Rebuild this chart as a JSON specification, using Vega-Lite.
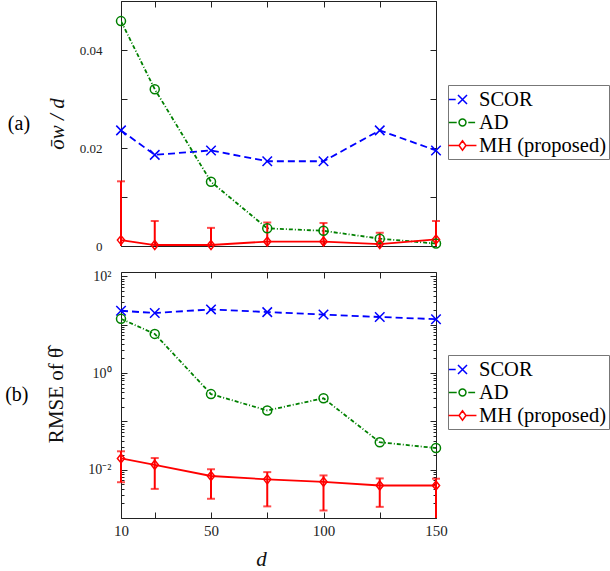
{
  "$schema": "https://vega.github.io/schema/vega-lite/v6.json",
  "background": "white",
  "padding": {"left": 4, "top": -6, "right": 2, "bottom": 4},
  "config": {
    "view": {"stroke": "#222", "strokeWidth": 1},
    "axis": {"domain": false, "grid": false, "tickColor": "#222", "tickWidth": 1, "labelFont": "Liberation Serif", "labelColor": "#222", "titleFont": "Liberation Serif", "titleFontWeight": "normal", "titleColor": "#111", "labelFlush": false, "labelOverlap": false, "labelBound": false},
    "legend": {"title": null, "orient": "none", "symbolSize": 441, "symbolStrokeWidth": 1.5, "labelFont": "Liberation Serif", "labelFontSize": 20.5, "labelColor": "#000", "labelOffset": 5, "padding": 3, "rowPadding": 1, "strokeColor": "#777", "fillColor": "white", "cornerRadius": 0}
  },
  "datasets": {
    "top": [
      {"m": "SCOR", "d": 10, "v": 0.0236}, {"m": "SCOR", "d": 25, "v": 0.0186}, {"m": "SCOR", "d": 50, "v": 0.0195}, {"m": "SCOR", "d": 75, "v": 0.0173}, {"m": "SCOR", "d": 100, "v": 0.0173}, {"m": "SCOR", "d": 125, "v": 0.0236}, {"m": "SCOR", "d": 150, "v": 0.0195},
      {"m": "AD", "d": 10, "v": 0.0459}, {"m": "AD", "d": 25, "v": 0.032}, {"m": "AD", "d": 50, "v": 0.0131}, {"m": "AD", "d": 75, "v": 0.0036}, {"m": "AD", "d": 100, "v": 0.0031}, {"m": "AD", "d": 125, "v": 0.0015}, {"m": "AD", "d": 150, "v": 0.0005},
      {"m": "MH (proposed)", "d": 10, "v": 0.0012, "lo": 0, "hi": 0.0132},
      {"m": "MH (proposed)", "d": 25, "v": 0.0002, "lo": 0, "hi": 0.0051},
      {"m": "MH (proposed)", "d": 50, "v": 0.0002, "lo": 0, "hi": 0.0037},
      {"m": "MH (proposed)", "d": 75, "v": 0.0009, "lo": 0, "hi": 0.0048},
      {"m": "MH (proposed)", "d": 100, "v": 0.0009, "lo": 0, "hi": 0.0047},
      {"m": "MH (proposed)", "d": 125, "v": 0.0004, "lo": 0, "hi": 0.0027},
      {"m": "MH (proposed)", "d": 150, "v": 0.00135, "lo": 0, "hi": 0.0051}
    ],
    "bottom": [
      {"m": "SCOR", "d": 10, "v": 19.4}, {"m": "SCOR", "d": 25, "v": 17.4}, {"m": "SCOR", "d": 50, "v": 20.7}, {"m": "SCOR", "d": 75, "v": 18.2}, {"m": "SCOR", "d": 100, "v": 16.2}, {"m": "SCOR", "d": 125, "v": 14.4}, {"m": "SCOR", "d": 150, "v": 13.0},
      {"m": "AD", "d": 10, "v": 13.2}, {"m": "AD", "d": 25, "v": 6.45}, {"m": "AD", "d": 50, "v": 0.366}, {"m": "AD", "d": 75, "v": 0.168}, {"m": "AD", "d": 100, "v": 0.3}, {"m": "AD", "d": 125, "v": 0.037}, {"m": "AD", "d": 150, "v": 0.028},
      {"m": "MH (proposed)", "d": 10, "v": 0.0171, "lo": 0.0055, "hi": 0.024},
      {"m": "MH (proposed)", "d": 25, "v": 0.0126, "lo": 0.004, "hi": 0.0174},
      {"m": "MH (proposed)", "d": 50, "v": 0.0074, "lo": 0.0025, "hi": 0.0102},
      {"m": "MH (proposed)", "d": 75, "v": 0.0063, "lo": 0.00174, "hi": 0.0089},
      {"m": "MH (proposed)", "d": 100, "v": 0.0056, "lo": 0.00143, "hi": 0.0076},
      {"m": "MH (proposed)", "d": 125, "v": 0.0047, "lo": 0.0017, "hi": 0.0066},
      {"m": "MH (proposed)", "d": 150, "v": 0.0047, "lo": 0.001, "hi": 0.0065}
    ]
  },
  "spacing": 14,
  "resolve": {"scale": {"color": "independent", "shape": "independent", "x": "independent", "y": "independent"}, "legend": {"color": "independent", "shape": "independent"}},
  "vconcat": [
    {
      "width": 315, "height": 245,
      "data": {"name": "top"},
      "title": {"text": "(a)", "orient": "left", "angle": 0, "align": "right", "baseline": "middle", "anchor": "middle", "offset": -6, "fontSize": 20, "font": "Liberation Serif", "fontWeight": "normal", "color": "#000"},
      "resolve": {"axis": {"x": "independent", "y": "independent"}},
      "layer": [
        {
          "transform": [{"filter": "datum.m == 'SCOR'"}],
          "mark": {"type": "line", "strokeWidth": 1.8, "strokeDash": [7, 4], "clip": true},
          "encoding": {
            "x": {"field": "d", "type": "quantitative", "scale": {"domain": [10, 150], "nice": false, "zero": false}, "axis": {"orient": "bottom", "values": [10, 25, 50, 75, 100, 125, 150], "labels": false, "tickSize": -6, "title": null}},
            "y": {"field": "v", "type": "quantitative", "scale": {"domain": [0, 0.05], "nice": false}, "axis": {"orient": "left", "values": [0, 0.01, 0.02, 0.03, 0.04, 0.05], "tickSize": -6, "labelExpr": "datum.value == 0 ? '0' : (datum.value == 0.02 || datum.value == 0.04) ? format(datum.value, '.2f') : ''", "labelFontSize": 13, "labelPadding": 25, "title": "ōw / d", "titleFontSize": 21, "titleFontStyle": "italic", "titlePadding": 12}},
            "color": {"field": "m", "type": "nominal", "scale": {"domain": ["SCOR", "AD", "MH (proposed)"], "range": ["#0000ff", "#008000", "#ff0000"]}, "legend": {"legendX": 327, "legendY": 84}}
          }
        },
        {
          "transform": [{"filter": "datum.m == 'AD'"}],
          "mark": {"type": "line", "strokeWidth": 1.8, "strokeDash": [4, 2, 1, 2], "clip": true},
          "encoding": {"x": {"field": "d", "type": "quantitative", "axis": null}, "y": {"field": "v", "type": "quantitative", "axis": null}, "color": {"field": "m", "type": "nominal"}}
        },
        {
          "transform": [{"filter": "datum.m == 'MH (proposed)'"}],
          "mark": {"type": "line", "strokeWidth": 1.8, "clip": true},
          "encoding": {"x": {"field": "d", "type": "quantitative", "axis": null}, "y": {"field": "v", "type": "quantitative", "axis": null}, "color": {"field": "m", "type": "nominal"}}
        },
        {
          "transform": [{"filter": "datum.m == 'MH (proposed)'"}],
          "mark": {"type": "rule", "color": "#ff0000", "strokeWidth": 2},
          "encoding": {"x": {"field": "d", "type": "quantitative", "axis": null}, "y": {"field": "lo", "type": "quantitative", "axis": null}, "y2": {"field": "hi"}}
        },
        {
          "transform": [{"filter": "datum.m == 'MH (proposed)'"}],
          "mark": {"type": "tick", "orient": "horizontal", "color": "#ff0000", "thickness": 2, "size": 8},
          "encoding": {"x": {"field": "d", "type": "quantitative", "axis": null}, "y": {"field": "hi", "type": "quantitative", "axis": null}}
        },
        {
          "transform": [{"filter": "datum.m == 'SCOR'"}],
          "mark": {"type": "point", "shape": "M-1,-1L1,1M-1,1L1,-1", "filled": false, "size": 90, "strokeWidth": 1.5, "opacity": 1},
          "encoding": {
            "x": {"field": "d", "type": "quantitative", "axis": {"orient": "top", "values": [10, 25, 50, 75, 100, 125, 150], "labels": false, "tickSize": -6, "title": null}},
            "y": {"field": "v", "type": "quantitative", "axis": {"orient": "right", "values": [0, 0.01, 0.02, 0.03, 0.04, 0.05], "labels": false, "tickSize": -6, "title": null}},
            "color": {"field": "m", "type": "nominal"}
          }
        },
        {
          "transform": [{"filter": "datum.m == 'AD'"}],
          "mark": {"type": "point", "shape": "circle", "filled": false, "size": 81, "strokeWidth": 1.5, "opacity": 1},
          "encoding": {"x": {"field": "d", "type": "quantitative", "axis": null}, "y": {"field": "v", "type": "quantitative", "axis": null}, "color": {"field": "m", "type": "nominal"}}
        },
        {
          "transform": [{"filter": "datum.m == 'MH (proposed)'"}],
          "mark": {"type": "point", "shape": "M0,-1L0.8,0L0,1L-0.8,0Z", "filled": false, "size": 81, "strokeWidth": 1.5, "opacity": 1},
          "encoding": {"x": {"field": "d", "type": "quantitative", "axis": null}, "y": {"field": "v", "type": "quantitative", "axis": null}, "color": {"field": "m", "type": "nominal"}}
        },
        {
          "transform": [{"filter": "false"}],
          "mark": {"type": "point", "filled": false, "size": 441, "strokeWidth": 1.5, "opacity": 1},
          "encoding": {
            "x": {"field": "d", "type": "quantitative", "axis": null},
            "y": {"field": "v", "type": "quantitative", "axis": null},
            "color": {"field": "m", "type": "nominal"},
            "shape": {"field": "m", "type": "nominal", "scale": {"domain": ["SCOR", "AD", "MH (proposed)"], "range": ["M-1.3,0H-0.65M-0.43,-0.43L0.43,0.43M-0.43,0.43L0.43,-0.43", "M-1.3,0H-0.55M0.55,0H1.2M-0.33,0A0.33,0.33,0,1,0,0.33,0A0.33,0.33,0,1,0,-0.33,0", "M-1.33,0H-0.33M0.33,0H1.33M-0.33,0L0,-0.45L0.33,0L0,0.45Z"]}, "legend": {"legendX": 327, "legendY": 84}}
          }
        }
      ]
    },
    {
      "width": 315, "height": 246,
      "data": {"name": "bottom"},
      "title": {"text": "(b)", "orient": "left", "angle": 0, "align": "right", "baseline": "middle", "anchor": "middle", "offset": -6, "fontSize": 20, "font": "Liberation Serif", "fontWeight": "normal", "color": "#000"},
      "resolve": {"axis": {"x": "independent", "y": "independent"}},
      "layer": [
        {
          "transform": [{"filter": "datum.m == 'SCOR'"}],
          "mark": {"type": "line", "strokeWidth": 1.8, "strokeDash": [7, 4], "clip": true},
          "encoding": {
            "x": {"field": "d", "type": "quantitative", "scale": {"domain": [10, 150], "nice": false, "zero": false}, "axis": {"orient": "bottom", "values": [10, 25, 50, 75, 100, 125, 150], "tickSize": -6, "labelExpr": "(datum.value == 10 || datum.value == 50 || datum.value == 100 || datum.value == 150) ? datum.label : ''", "labelFontSize": 15, "labelPadding": 11, "title": "d", "titleFontSize": 21, "titleFontStyle": "italic", "titlePadding": 10, "titleX": 140, "titleAlign": "center"}},
            "y": {"field": "v", "type": "quantitative", "scale": {"type": "log", "domain": [0.001, 123], "nice": false}, "axis": {"orient": "left", "values": [0.001, 0.01, 0.1, 1, 10, 100], "tickSize": -6, "labelExpr": "datum.value == 100 ? '10²' : datum.value == 1 ? '10⁰' : datum.value == 0.01 ? '10⁻²' : ''", "labelFontSize": 14, "labelPadding": 16, "title": "RMSE of θ̂", "titleFontSize": 21, "titlePadding": 21}},
            "color": {"field": "m", "type": "nominal", "scale": {"domain": ["SCOR", "AD", "MH (proposed)"], "range": ["#0000ff", "#008000", "#ff0000"]}, "legend": {"legendX": 327, "legendY": 83}}
          }
        },
        {
          "transform": [{"filter": "datum.m == 'AD'"}],
          "mark": {"type": "line", "strokeWidth": 1.8, "strokeDash": [4, 2, 1, 2], "clip": true},
          "encoding": {"x": {"field": "d", "type": "quantitative", "axis": null}, "y": {"field": "v", "type": "quantitative", "axis": null}, "color": {"field": "m", "type": "nominal"}}
        },
        {
          "transform": [{"filter": "datum.m == 'MH (proposed)'"}],
          "mark": {"type": "line", "strokeWidth": 1.8, "clip": true},
          "encoding": {"x": {"field": "d", "type": "quantitative", "axis": null}, "y": {"field": "v", "type": "quantitative", "axis": null}, "color": {"field": "m", "type": "nominal"}}
        },
        {
          "transform": [{"filter": "datum.m == 'MH (proposed)'"}],
          "mark": {"type": "rule", "color": "#ff0000", "strokeWidth": 2},
          "encoding": {"x": {"field": "d", "type": "quantitative", "axis": null}, "y": {"field": "lo", "type": "quantitative", "axis": {"orient": "left", "values": [0.002, 0.003, 0.004, 0.005, 0.006, 0.007, 0.008, 0.009, 0.02, 0.03, 0.04, 0.05, 0.06, 0.07, 0.08, 0.09, 0.2, 0.3, 0.4, 0.5, 0.6, 0.7, 0.8, 0.9, 2, 3, 4, 5, 6, 7, 8, 9, 20, 30, 40, 50, 60, 70, 80, 90], "labels": false, "tickSize": -3, "title": null}}, "y2": {"field": "hi"}}
        },
        {
          "transform": [{"filter": "datum.m == 'MH (proposed)'"}],
          "mark": {"type": "tick", "orient": "horizontal", "color": "#ff0000", "thickness": 2, "size": 8},
          "encoding": {"x": {"field": "d", "type": "quantitative", "axis": null}, "y": {"field": "hi", "type": "quantitative", "axis": {"orient": "right", "values": [0.002, 0.003, 0.004, 0.005, 0.006, 0.007, 0.008, 0.009, 0.02, 0.03, 0.04, 0.05, 0.06, 0.07, 0.08, 0.09, 0.2, 0.3, 0.4, 0.5, 0.6, 0.7, 0.8, 0.9, 2, 3, 4, 5, 6, 7, 8, 9, 20, 30, 40, 50, 60, 70, 80, 90], "labels": false, "tickSize": -3, "title": null}}}
        },
        {
          "transform": [{"filter": "datum.m == 'MH (proposed)' && datum.lo > 0.001"}],
          "mark": {"type": "tick", "orient": "horizontal", "color": "#ff0000", "thickness": 2, "size": 8},
          "encoding": {"x": {"field": "d", "type": "quantitative", "axis": null}, "y": {"field": "lo", "type": "quantitative", "axis": null}}
        },
        {
          "transform": [{"filter": "datum.m == 'SCOR'"}],
          "mark": {"type": "point", "shape": "M-1,-1L1,1M-1,1L1,-1", "filled": false, "size": 90, "strokeWidth": 1.5, "opacity": 1},
          "encoding": {
            "x": {"field": "d", "type": "quantitative", "axis": {"orient": "top", "values": [10, 25, 50, 75, 100, 125, 150], "labels": false, "tickSize": -6, "title": null}},
            "y": {"field": "v", "type": "quantitative", "axis": {"orient": "right", "values": [0.001, 0.01, 0.1, 1, 10, 100], "labels": false, "tickSize": -6, "title": null}},
            "color": {"field": "m", "type": "nominal"}
          }
        },
        {
          "transform": [{"filter": "datum.m == 'AD'"}],
          "mark": {"type": "point", "shape": "circle", "filled": false, "size": 81, "strokeWidth": 1.5, "opacity": 1},
          "encoding": {"x": {"field": "d", "type": "quantitative", "axis": null}, "y": {"field": "v", "type": "quantitative", "axis": null}, "color": {"field": "m", "type": "nominal"}}
        },
        {
          "transform": [{"filter": "datum.m == 'MH (proposed)'"}],
          "mark": {"type": "point", "shape": "M0,-1L0.8,0L0,1L-0.8,0Z", "filled": false, "size": 81, "strokeWidth": 1.5, "opacity": 1},
          "encoding": {"x": {"field": "d", "type": "quantitative", "axis": null}, "y": {"field": "v", "type": "quantitative", "axis": null}, "color": {"field": "m", "type": "nominal"}}
        },
        {
          "transform": [{"filter": "false"}],
          "mark": {"type": "point", "filled": false, "size": 441, "strokeWidth": 1.5, "opacity": 1},
          "encoding": {
            "x": {"field": "d", "type": "quantitative", "axis": null},
            "y": {"field": "v", "type": "quantitative", "axis": null},
            "color": {"field": "m", "type": "nominal"},
            "shape": {"field": "m", "type": "nominal", "scale": {"domain": ["SCOR", "AD", "MH (proposed)"], "range": ["M-1.3,0H-0.65M-0.43,-0.43L0.43,0.43M-0.43,0.43L0.43,-0.43", "M-1.3,0H-0.55M0.55,0H1.2M-0.33,0A0.33,0.33,0,1,0,0.33,0A0.33,0.33,0,1,0,-0.33,0", "M-1.33,0H-0.33M0.33,0H1.33M-0.33,0L0,-0.45L0.33,0L0,0.45Z"]}, "legend": {"legendX": 327, "legendY": 83}}
          }
        }
      ]
    }
  ]
}
